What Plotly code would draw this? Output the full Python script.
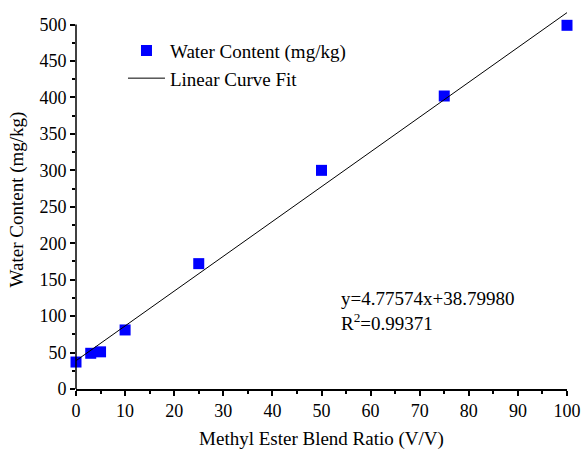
import plotly.graph_objects as go

blend_ratio = [0, 3, 5, 10, 25, 50, 75, 100]
water_content = [37, 49, 51, 81, 172, 300, 402, 499]
fit_slope = 4.77574
fit_intercept = 38.79980
fit_x = [0, 100]
fit_y = [fit_intercept + fit_slope * v for v in fit_x]
x_ticks = list(range(0, 101, 10))
y_ticks = list(range(0, 501, 50))

FONT = "Liberation Serif"
TXT = 19
TICK = 18

fig = go.Figure()
fig.add_trace(go.Scatter(
    x=blend_ratio, y=water_content, mode="markers",
    name="Water Content (mg/kg)",
    marker=dict(symbol="square", size=11, color="#0000FF"),
    cliponaxis=False,
))
fig.add_trace(go.Scatter(
    x=fit_x, y=fit_y, mode="lines", name="Linear Curve Fit",
    line=dict(color="black", width=1),
))

fig.add_shape(type="line", xref="paper", yref="y", x0=0, x1=0, y0=0, y1=500,
              line=dict(color="black", width=1.5), layer="above")

fig.add_annotation(x=0.536, y=0.206, xref="paper", yref="paper",
                   xanchor="left", yanchor="middle", showarrow=False,
                   text="y=4.77574x+38.79980<br>R<sup>2</sup>=0.99371",
                   align="left", font=dict(family=FONT, size=TXT, color="black"))

fig.update_layout(
    width=581, height=450,
    margin=dict(l=76, r=14, t=10, b=61),
    plot_bgcolor="white", paper_bgcolor="white",
    font=dict(family=FONT, size=TXT, color="black"),
    showlegend=True,
    legend=dict(x=0.0957, y=0.943, xanchor="left", yanchor="top",
                bgcolor="rgba(0,0,0,0)", font=dict(family=FONT, size=TXT),
                itemwidth=37, tracegroupgap=0),
    xaxis=dict(
        range=[0, 100], tickvals=x_ticks, showgrid=False, zeroline=False,
        automargin=False,
        showline=True, linecolor="black", linewidth=1.5,
        ticks="outside", ticklen=5, tickwidth=1.5, tickcolor="black",
        minor=dict(dtick=5, ticks="outside", ticklen=3, tickwidth=1.5, tickcolor="black", showgrid=False),
        title=dict(text="Methyl Ester Blend Ratio (V/V)", standoff=12,
                   font=dict(family=FONT, size=TXT)),
        tickfont=dict(family=FONT, size=TICK),
    ),
    yaxis=dict(
        range=[0, 520], tickvals=y_ticks, showgrid=False, zeroline=False,
        automargin=False,
        showline=False,
        ticks="outside", ticklen=5, tickwidth=1.5, tickcolor="black",
        minor=dict(tickvals=list(range(25, 500, 50)), ticks="outside", ticklen=3, tickwidth=1.5, tickcolor="black", showgrid=False),
        title=dict(text="Water Content (mg/kg)", standoff=10,
                   font=dict(family=FONT, size=TXT)),
        tickfont=dict(family=FONT, size=TICK),
    ),
)

fig.write_html("out.html")
